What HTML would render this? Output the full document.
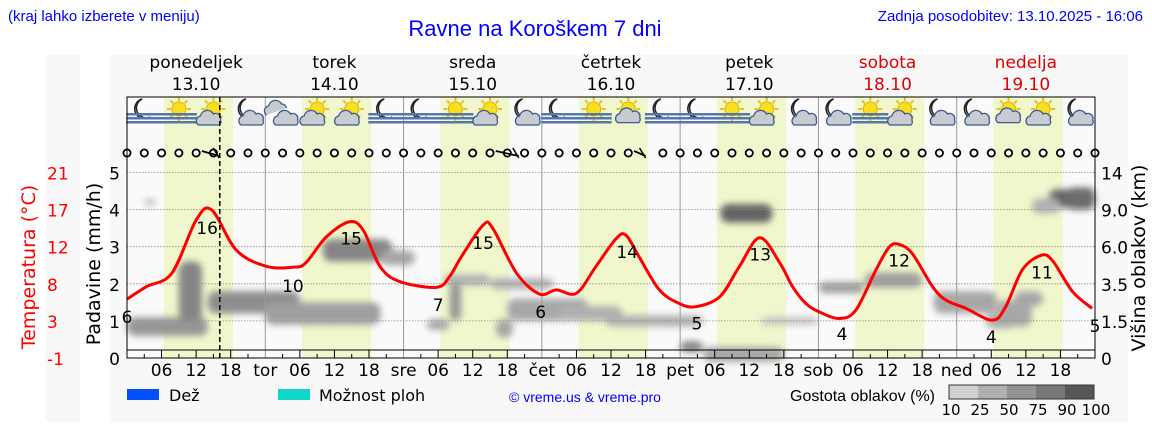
<!DOCTYPE html>
<html><head><meta charset="utf-8"><style>
body{margin:0;width:1152px;height:443px;background:#fff;overflow:hidden;font-family:"DejaVu Sans","Liberation Sans",sans-serif}
svg{display:block}
</style></head><body>
<svg id="chart" width="1152" height="443" xmlns="http://www.w3.org/2000/svg">
<defs><filter id="blur" x="-20%" y="-80%" width="140%" height="260%"><feGaussianBlur stdDeviation="3.5"/></filter></defs>
<rect x="45" y="55" width="35" height="367" fill="#f8f8f8"/>
<rect x="110" y="55" width="1018" height="367" fill="#f8f8f8"/>
<text x="8" y="21" font-family="Liberation Sans" font-size="15" fill="#0000ff">(kraj lahko izberete v meniju)</text>
<text x="535" y="36" text-anchor="middle" font-family="Liberation Sans" font-size="22" fill="#0000ff">Ravne na Koroškem 7 dni</text>
<text x="1143" y="21" text-anchor="end" font-family="Liberation Sans" font-size="15" fill="#0000ff">Zadnja posodobitev: 13.10.2025 - 16:06</text>
<g id="bg"></g>
<g id="clouds" filter="url(#blur)"></g>
<g id="grid"></g>
<g id="icons"></g>
<g id="wind"></g>
<g id="temp"></g>
<g id="axes"></g>
<text transform="translate(35,267) rotate(-90)" text-anchor="middle" font-size="19" fill="#ff0000">Temperatura (°C)</text>
<text transform="translate(100,264) rotate(-90)" text-anchor="middle" font-size="19" fill="#000">Padavine (mm/h)</text>
<text transform="translate(1145,258) rotate(-90)" text-anchor="middle" font-size="19" fill="#000">Višina oblakov (km)</text>
<g>
<rect x="127" y="389" width="32" height="11" fill="#0050ff"/>
<text x="169" y="401" font-size="16">Dež</text>
<rect x="278" y="389" width="32" height="11" fill="#10d8c8"/>
<text x="319" y="401" font-size="16">Možnost ploh</text>
<text x="585" y="402" text-anchor="middle" font-family="Liberation Sans" font-size="14" fill="#0000ff">© vreme.us &amp; vreme.pro</text>
<text x="935" y="401" text-anchor="end" font-family="Liberation Sans" font-size="16">Gostota oblakov (%)</text>
<g id="cbar"></g>
</g>
</svg>
<script>
const NS='http://www.w3.org/2000/svg';
const dayNames=['ponedeljek','torek','sreda','četrtek','petek','sobota','nedelja'];
const dayDates=['13.10','14.10','15.10','16.10','17.10','18.10','19.10'];
const dayAbbr=['','tor','sre','čet','pet','sob','ned'];
const weekend=[false,false,false,false,false,true,true];
const precipTicks=[0,1,2,3,4,5];
const tempTicks=['-1','3','8','12','17','21'];
const cloudTicks=['0','1.5','3.5','6.0','9.0','14'];
const tempHours=[0,3.4,7.8,12,14.7,19,24.2,28.8,31,34.6,38.6,41,43.9,47.3,53.7,56,58,61.8,63.5,67.6,71.6,74.5,78,81.4,84.9,86.6,88.9,92.4,95.8,98.7,102.9,106.3,109.8,113.3,115.5,117.8,120.1,123.6,126.5,130,132.3,134,136.3,139.8,142.1,145.6,150.2,152.5,155.4,158.6,160.6,164.1,167.5];
const tempValues=[6,7.5,9.1,15.4,16.6,11.8,9.9,9.8,10.3,13.4,15.2,14.2,9.9,8.1,7.4,8.7,11,14.8,14.4,9.1,6.6,7.1,6.7,9.9,13.2,13.6,11,7.1,5.5,5.1,6.3,9.9,13.3,10.3,7.5,5.5,4.5,3.7,4.7,9.5,12.2,12.5,11.4,7.5,5.9,4.9,3.5,5.1,9.5,11.2,10.6,6.9,4.9];
const tempLabelHours=[0,13.9,28.8,38.9,54,61.8,71.8,86.8,98.9,109.9,124.1,134,150,158.8,168];
const tempLabels=['6','16','10','15','7','15','6','14','5','13','4','12','4','11','5'];
const tempLabelVals=[4.0,14.6,7.7,13.3,5.4,12.8,4.6,11.7,3.2,11.4,2.0,10.7,1.6,9.3,2.9];
const iconTypes=['moonfog','sunfog','suncloud','mooncloud','cloud','suncloud','suncloud','moonfog','moonfog','sunfog','suncloud','mooncloud','moonfog','sunfog','sunsmall','moonfog','moonfog','sunfog','suncloud','mooncloud','mooncloud','sunfog','suncloud','mooncloud','mooncloud','sunsmall','suncloud','mooncloud'];
const windHours=[13,16,64,68,88,90];
// cloud patches: start hour, end hour, precip-scale level (0-5), thickness, density %
const cloudStart=[0,9,14,24,34,44,52,55,63,66,75,83,96,103,110,120,128,140,149,154,160,157,163,3,56,64,100,151];
const cloudEnd=[14,13,30,44,46,50,56,63,74,80,86,100,100,112,120,128,138,151,154,159,168,162,168,5,58,67,114,157];
const cloudLevel=[0.85,1.8,1.5,1.2,2.9,2.7,0.9,2.1,2.0,1.3,1.2,1.0,0.3,3.9,1.0,1.9,2.1,1.5,1.0,1.6,4.3,4.1,4.3,4.2,1.5,0.8,0.1,1.2];
const cloudThick=[0.5,1.6,0.6,0.6,0.6,0.4,0.3,0.3,0.3,0.6,0.4,0.3,0.3,0.5,0.2,0.3,0.4,0.6,0.4,0.4,0.5,0.4,0.6,0.2,1.0,0.5,0.4,0.7];
const cloudDensity=[50,60,55,45,60,40,40,35,35,40,35,35,60,80,25,45,45,40,35,40,80,35,75,25,50,40,40,40];
const cbarLabels=['10','25','50','75','90','100'];
const cbarColors=['#d0d0d0','#b0b0b0','#929292','#777777','#565656'];

const X0=127,X1=1095,Y0=97,YB=358,PX=(X1-X0)/168;
const xH=h=>X0+h*PX;
const yP=v=>358-v*37.1;
const yT=t=>358-(t+1)*8.41;
function el(tag,attrs,parent,name,inter){const e=document.createElementNS(NS,tag);for(const k in attrs)e.setAttribute(k,attrs[k]);parent.appendChild(e);


return e;}
function txt(x,y,s,attrs,parent,name){const t=el('text',Object.assign({x:x,y:y},attrs),parent,name,false);t.textContent=s;return t;}
const bg=document.getElementById('bg'),grid=document.getElementById('grid'),axes=document.getElementById('axes');
el('rect',{x:X0,y:Y0,width:X1-X0,height:YB-Y0+1,fill:'#fafafa'},bg,'plot-background',false);
for(let d=0;d<7;d++){
  el('rect',{x:xH(d*24+6.4),y:Y0,width:12*PX,height:YB-Y0+1,fill:'#f0f7cc'},bg,'daylight-band',false);
  const cx=xH(d*24+12),col=weekend[d]?'#e00000':'#000';
  txt(cx,68,dayNames[d],{'text-anchor':'middle','font-size':17,fill:col},axes,'day-name');
  txt(cx,90,dayDates[d],{'text-anchor':'middle','font-size':17,fill:col},axes,'day-date');
  if(d>0){el('line',{x1:xH(d*24),x2:xH(d*24),y1:Y0,y2:YB,stroke:'#999','stroke-width':1},grid,'day-separator',false);
    txt(xH(d*24),376,dayAbbr[d],{'text-anchor':'middle','font-size':17},axes,'day-abbr-label');}
  [6,12,18].forEach(h=>{txt(xH(d*24+h),376,String(h).padStart(2,'0'),{'text-anchor':'middle','font-size':17},axes,'hour-label');
    el('line',{x1:xH(d*24+h),x2:xH(d*24+h),y1:350,y2:358,stroke:'#000'},axes,'hour-tick',false);});
  [3,9,15,21].forEach(h=>el('line',{x1:xH(d*24+h),x2:xH(d*24+h),y1:354,y2:358,stroke:'#000'},axes,'minor-tick',false));
}
// clouds
const cg=document.getElementById('clouds');
for(let i=0;i<cloudStart.length;i++){
  const g=Math.round(235-cloudDensity[i]*1.7);
  el('rect',{x:xH(cloudStart[i]),y:yP(cloudLevel[i]+cloudThick[i]/2),width:(cloudEnd[i]-cloudStart[i])*PX,height:cloudThick[i]*37.1,rx:8,fill:`rgb(${g},${g},${g})`},cg,'cloud-patch',false);
}
// grid
precipTicks.forEach((v,i)=>{
  if(v>0)el('line',{x1:X0,x2:X1,y1:yP(v),y2:yP(v),stroke:'#888','stroke-dasharray':'1.5,1.5','stroke-width':0.8},grid,'gridline',false);
  txt(X0-7,yP(v)+7,String(v),{'text-anchor':'end','font-size':17},axes,'precip-tick-label');
  txt(47,yP(v)+7,tempTicks[i],{'text-anchor':'start','font-size':17,fill:'#ff0000'},axes,'temp-tick-label');
  txt(X1+6,yP(v)+7,cloudTicks[i],{'font-size':17},axes,'cloud-height-tick-label');
});
el('line',{x1:X0,x2:X1,y1:350,y2:350,stroke:'#000','stroke-width':1},axes,'x-axis-line',false);
el('rect',{x:X0,y:Y0,width:X1-X0,height:YB-Y0,fill:'none',stroke:'#000','stroke-width':1},axes,'plot-frame',false);
el('line',{x1:xH(16.1),x2:xH(16.1),y1:Y0,y2:YB,stroke:'#000','stroke-width':1.5,'stroke-dasharray':'5,3'},axes,'current-time-line',false);
// temp curve (Catmull-Rom)
const pts=tempHours.map((h,i)=>[xH(h),yT(tempValues[i])]);
let d='M'+pts[0][0]+','+pts[0][1];
for(let i=0;i<pts.length-1;i++){const p0=pts[Math.max(0,i-1)],p1=pts[i],p2=pts[i+1],p3=pts[Math.min(pts.length-1,i+2)];
d+=` C${p1[0]+(p2[0]-p0[0])/6},${p1[1]+(p2[1]-p0[1])/6} ${p2[0]-(p3[0]-p1[0])/6},${p2[1]-(p3[1]-p1[1])/6} ${p2[0]},${p2[1]}`;}
const tg=document.getElementById('temp');
el('path',{d:d,fill:'none',stroke:'#ff0000','stroke-width':3},tg,'temperature-line',false);
tempLabels.forEach((s,i)=>txt(xH(tempLabelHours[i]),yT(tempLabelVals[i])+7,s,{'text-anchor':'middle','font-size':17},tg,'temperature-value-label'));
// wind row
const wg=document.getElementById('wind');
for(let h=0;h<=168;h+=3){if(windHours.includes(h))continue;el('circle',{cx:xH(h),cy:153,r:3.6,fill:'#fff',stroke:'#000','stroke-width':1.8},wg,'calm-wind-marker',false);}
for(let i=0;i<windHours.length;i+=2){const a=xH(windHours[i]),b=xH(windHours[i+1]);
 el('line',{x1:a,y1:151,x2:b,y2:156,stroke:'#000','stroke-width':1.8},wg,'wind-barb',false);
 el('line',{x1:b-6,y1:148,x2:b,y2:158,stroke:'#000','stroke-width':1.5},wg,'wind-barb-tick',false);}
// icons
const ig=document.getElementById('icons');
iconTypes.forEach((t,i)=>{const cx=xH(i*6+3),cy=113;const g=el('g',{},ig,'weather-icon-'+t,false);
 const sun=t.startsWith('sun');
 if(sun){for(let k=0;k<8;k++){const a=k*Math.PI/4;el('line',{x1:cx+Math.cos(a)*8,y1:cy-4+Math.sin(a)*8,x2:cx+Math.cos(a)*12,y2:cy-4+Math.sin(a)*12,stroke:'#e8c020','stroke-width':2},g,'sun-ray',false);}
  el('circle',{cx:cx,cy:cy-4,r:7,fill:'#f8e020',stroke:'#e0b000'},g,'sun',false);}
 else if(t!=='cloud'){el('path',{d:`M${cx-2},${cy-14} A10,10 0 1,0 ${cx+6},${cy+4} A8,8 0 0,1 ${cx-2},${cy-14}Z`,fill:'#fff',stroke:'#222','stroke-width':1.5},g,'moon',false);}
 if(t.endsWith('fog')){[0,4,8].forEach(o=>el('rect',{x:cx-18,y:cy+o,width:36,height:2.5,fill:'#5577aa'},g,'fog-line',false));}
 if(t.endsWith('cloud')||t==='cloud'||t==='sunsmall'){const s=t==='sunsmall'?0.6:1,ox=cx+(sun?-4:4),oy=cy+6;
  el('path',{d:`M${ox-11*s},${oy+6*s} a5,5 0 0,1 2,-9 a7,7 0 0,1 13,-2 a5,5 0 0,1 7,6 a4,4 0 0,1 -1,5z`,fill:'#c8ccd0',stroke:'#3a5a90','stroke-width':1.3},g,'cloud',false);
  if(t==='cloud')el('path',{d:`M${cx-16},${cy+2} a5,5 0 0,1 2,-9 a7,7 0 0,1 13,-2 a5,5 0 0,1 5,4`,fill:'#c8ccd0',stroke:'#3a5a90','stroke-width':1.3},g,'cloud',false);}
});
// color bar
const cb=document.getElementById('cbar');
cbarColors.forEach((c,i)=>el('rect',{x:949+i*29,y:385,width:29,height:14,fill:c},cb,'density-swatch',false));
el('rect',{x:949,y:385,width:145,height:14,fill:'none',stroke:'#333'},cb,'density-bar-frame',false);
cbarLabels.forEach((s,i)=>txt(951+i*29,415,s,{'text-anchor':'middle','font-size':15},cb,'density-tick-label'));
</script>
</body></html>
